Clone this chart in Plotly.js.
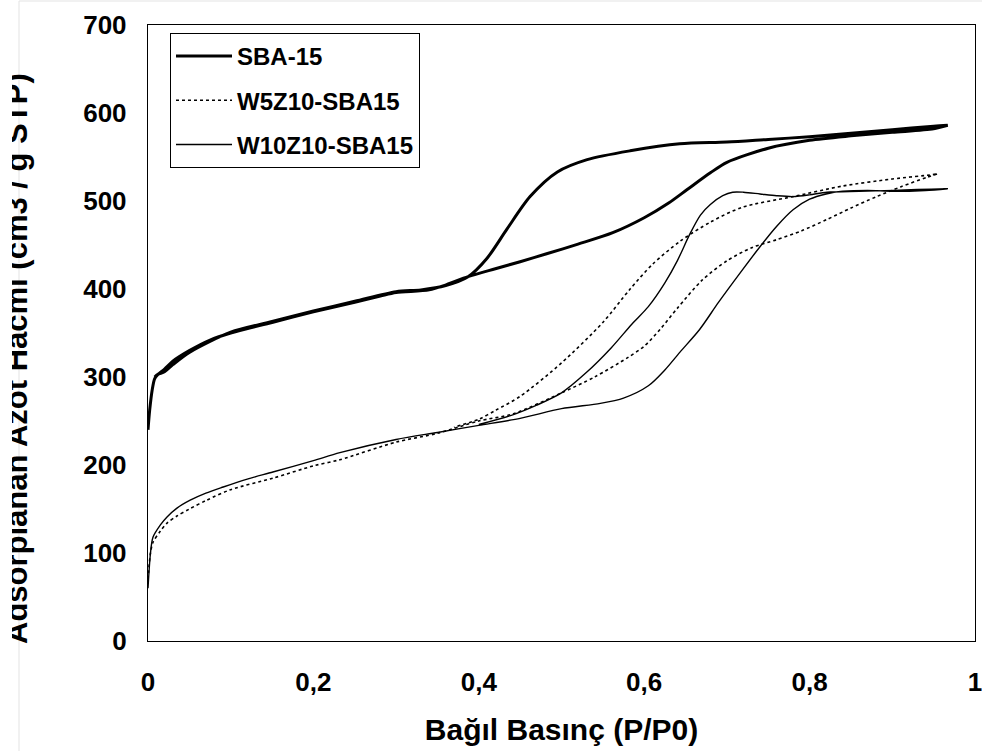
<!DOCTYPE html>
<html>
<head>
<meta charset="utf-8">
<script src="https://cdn.plot.ly/plotly-3.0.1.min.js"></script>
<style>html,body{margin:0;padding:0;background:#fff;}#chart{width:982px;height:751px;}</style>
</head>
<body>
<div id="chart"></div>
<script>
// ---- Data ----
const seriesNames = ["SBA-15", "W5Z10-SBA15", "W10Z10-SBA15"];

// SBA-15 adsorption / desorption branches
const sbaAdsX = [0, 0.002, 0.005, 0.008, 0.012, 0.02, 0.03, 0.05, 0.075, 0.1, 0.15, 0.2, 0.25, 0.281, 0.3, 0.34, 0.361, 0.387, 0.42, 0.45, 0.482, 0.52, 0.562, 0.6, 0.63, 0.652, 0.68, 0.7, 0.75, 0.8, 0.85, 0.9, 0.95, 0.967];
const sbaAdsY = [240, 262, 285, 298, 303, 309, 318, 330, 342, 350, 362, 374, 385, 392, 396, 399, 405, 414, 423, 431, 440, 451, 464, 481, 498, 513, 532, 544, 560, 569, 574, 578, 582, 586];
const sbaDesX = [0.967, 0.95, 0.9, 0.85, 0.8, 0.75, 0.7, 0.643, 0.583, 0.531, 0.495, 0.462, 0.434, 0.41, 0.387, 0.36, 0.33, 0.3, 0.25, 0.2, 0.15, 0.1, 0.05, 0.03, 0.02, 0.012, 0.008];
const sbaDesY = [586, 585, 581, 577, 573, 570, 567, 565, 557, 547, 533, 505, 468, 435, 414, 404, 399, 397, 386, 375, 363, 351, 328, 314, 306, 303, 300];

// W5Z10-SBA15
const w5AdsX = [0, 0.003, 0.006, 0.015, 0.023, 0.035, 0.05, 0.071, 0.1, 0.151, 0.2, 0.232, 0.3, 0.35, 0.4, 0.441, 0.5, 0.54, 0.58, 0.6, 0.62, 0.64, 0.67, 0.7, 0.73, 0.76, 0.79, 0.821, 0.85, 0.881, 0.91, 0.942, 0.955];
const w5AdsY = [70, 100, 112, 125, 134, 142, 150, 160, 172, 185, 199, 206, 226, 236, 250, 258, 282, 300, 322, 335, 355, 378, 410, 432, 447, 456, 466, 479, 492, 505, 516, 527, 531];
const w5DesX = [0.955, 0.949, 0.9, 0.84, 0.78, 0.719, 0.68, 0.643, 0.61, 0.583, 0.55, 0.5, 0.45, 0.42, 0.4, 0.37];
const w5DesY = [531, 530, 525, 517, 505, 493, 476, 454, 428, 400, 362, 316, 278, 262, 252, 243];

// W10Z10-SBA15
const w10AdsX = [0, 0.003, 0.006, 0.015, 0.023, 0.035, 0.051, 0.07, 0.091, 0.12, 0.151, 0.2, 0.232, 0.3, 0.35, 0.4, 0.45, 0.5, 0.547, 0.575, 0.605, 0.625, 0.643, 0.667, 0.69, 0.719, 0.74, 0.76, 0.78, 0.8, 0.82, 0.84, 0.87, 0.901, 0.94, 0.967];
const w10AdsY = [60, 100, 118, 132, 141, 151, 160, 168, 175, 184, 192, 205, 214, 229, 237, 245, 253, 264, 270, 276, 290, 308, 328, 354, 385, 422, 448, 471, 490, 502, 508, 511, 512, 511, 512, 514];
const w10DesX = [0.967, 0.93, 0.901, 0.86, 0.821, 0.8, 0.78, 0.76, 0.74, 0.72, 0.707, 0.695, 0.68, 0.668, 0.655, 0.64, 0.625, 0.605, 0.585, 0.56, 0.53, 0.5, 0.47, 0.441, 0.4];
const w10DesY = [514, 513, 512, 511, 510, 507, 505, 506, 508, 510, 510, 506, 496, 484, 462, 432, 407, 380, 360, 333, 305, 282, 268, 257, 246];

const xTickVals = [0, 0.2, 0.4, 0.6, 0.8, 1];
const yTickVals = [0, 100, 200, 300, 400, 500, 600, 700];

const xTitle = "Bağıl Basınç (P/P0)";
const yTitle = "Adsorplanan Azot Hacmi (cm3 / g STP)";

// ---- Chart ----
const FONT = "Liberation Sans, Arial, sans-serif";
function loop(ax, ay, dx, dy) { return { x: ax.concat(dx), y: ay.concat(dy) }; }

const s1 = loop(sbaAdsX, sbaAdsY, sbaDesX, sbaDesY);
const s2 = loop(w5AdsX, w5AdsY, w5DesX, w5DesY);
const s3 = loop(w10AdsX, w10AdsY, w10DesX, w10DesY);

const traces = [
  { x: s1.x, y: s1.y, name: seriesNames[0], mode: "lines", legendgroup: "a",
    line: { color: "#000", width: 3, shape: "spline", smoothing: 0.8 } },
  { x: s2.x, y: s2.y, name: seriesNames[1], mode: "lines", legendgroup: "b",
    line: { color: "#000", width: 1.6, dash: "dot", shape: "spline", smoothing: 0.8 } },
  { x: s3.x, y: s3.y, name: seriesNames[2], mode: "lines", legendgroup: "c",
    line: { color: "#000", width: 1.4, shape: "spline", smoothing: 0.8 } }
];

const plotL = 148, plotR = 975, plotT = 25, plotB = 641;
const pw = plotR - plotL, ph = plotB - plotT;

const layout = {
  width: 982, height: 751,
  margin: { l: plotL, r: 982 - plotR, t: plotT, b: 751 - plotB, pad: 0 },
  paper_bgcolor: "#fff", plot_bgcolor: "#fff",
  separators: ",.",
  showlegend: true,
  font: { family: FONT, color: "#000" },
  legend: {
    x: (170 - plotL) / pw, y: (plotB - 33) / ph, xanchor: "left", yanchor: "top",
    bordercolor: "#000", borderwidth: 1, bgcolor: "#fff",
    font: { family: FONT, size: 24, weight: 700, color: "#000" },
    traceorder: "grouped", tracegroupgap: 10, itemwidth: 56
  },
  xaxis: {
    range: [0, 1], tickvals: xTickVals, showgrid: false, zeroline: false,
    showline: true, linecolor: "#000", linewidth: 1.2, mirror: true,
    ticks: "", ticklabelstandoff: 18, ticklabeloverflow: "allow",
    tickfont: { family: FONT, size: 26, weight: 700, color: "#000" },
    title: { text: xTitle, font: { family: FONT, size: 30, weight: 700, color: "#000" }, standoff: 22 },
    automargin: false
  },
  yaxis: {
    range: [0, 700], tickvals: yTickVals, showgrid: false, zeroline: false,
    showline: true, linecolor: "#000", linewidth: 1.2, mirror: true,
    ticks: "", ticklabelstandoff: 15, ticklabeloverflow: "allow",
    tickfont: { family: FONT, size: 26, weight: 700, color: "#000" },
    automargin: false
  },
  shapes: [
    { type: "line", xref: "paper", yref: "paper", x0: (19 - plotL) / pw, x1: (19 - plotL) / pw,
      y0: (plotB - 1) / ph, y1: (plotB - 751) / ph, line: { color: "#e3e3e3", width: 1 } },
    { type: "line", xref: "paper", yref: "paper", x0: (19 - plotL) / pw, x1: (982 - plotL) / pw,
      y0: (plotB - 1) / ph, y1: (plotB - 1) / ph, line: { color: "#e3e3e3", width: 1 } }
  ],
  annotations: [
    { text: yTitle, xref: "paper", yref: "paper", x: (17 - plotL) / pw, y: (plotB - 359) / ph,
      xanchor: "center", yanchor: "middle", textangle: -90, showarrow: false,
      font: { family: FONT, size: 31, weight: 700, color: "#000" } },
    { text: " ", xref: "paper", yref: "paper", x: (0 - plotL) / pw, y: 0.5,
      xanchor: "left", yanchor: "middle", showarrow: false, width: 12, height: 751,
      bgcolor: "#fff", borderpad: 0, borderwidth: 0 }
  ]
};

Plotly.newPlot("chart", traces, layout, { displayModeBar: false, staticPlot: true });
</script>
</body>
</html>
